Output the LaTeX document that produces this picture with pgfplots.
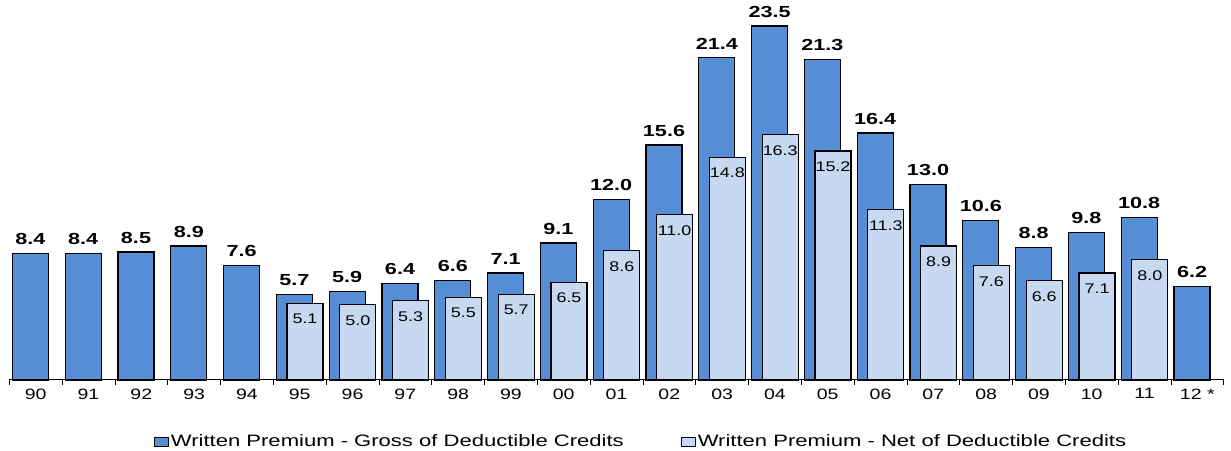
\documentclass[border=0pt]{standalone}
\usepackage{pgfplots}
\pgfplotsset{compat=1.18}
\usepackage{fontspec}
\setmainfont{Liberation Sans}
\definecolor{gross}{RGB}{85,142,213}
\definecolor{net}{RGB}{198,217,241}
\newcommand\sx[1]{\scalebox{1.35}[1]{#1}}
\newcommand\sxt[1]{\scalebox{1.3}[1]{#1}}
\newcommand\sxl[1]{\scalebox{1.336}[1]{#1}}
\newcommand\sxn[1]{\scalebox{1.28}[1]{#1}}
\begin{document}
\begin{tikzpicture}
\begin{axis}[
  x=52.8pt, y=15.06pt,
  xmin=-0.5, xmax=22.5, ymin=0, ymax=25,
  enlargelimits=false,
  ybar, bar width=36pt,
  axis y line=none, axis x line*=bottom,
  x axis line style={black, line width=1pt},
  xtick={0,...,22},
  xticklabels={\sxt{90},\sxt{91},\sxt{92},\sxt{93},\sxt{94},\sxt{95},\sxt{96},\sxt{97},\sxt{98},\sxt{99},\sxt{00},\sxt{01},\sxt{02},\sxt{03},\sxt{04},\sxt{05},\sxt{06},\sxt{07},\sxt{08},\sxt{09},\sxt{10},\sxt{11},\sxt{12 *}},
  major tick length=0pt,
  minor xtick={-0.5,0.5,...,22.5},
  minor tick length=4.5pt,
  tick align=outside,
  tick style={black, line width=0.8pt},
  xticklabel style={font=\fontsize{15}{17}\selectfont, text=black, yshift=-5pt},
  clip=false,
  /pgf/number format/fixed,
  /pgf/number format/fixed zerofill,
  /pgf/number format/precision=1,
  /pgf/number format/assume math mode=true,
  legend columns=2,
  legend style={at={(0.5202,-0.1639)}, anchor=center, draw=none, fill=none,
    font=\fontsize{16.5}{18}\selectfont, inner sep=0pt,
    /tikz/every even column/.append style={column sep=55pt}},
]
\addplot[fill=gross, draw=black, line width=1.2pt, bar shift=-5.3pt,
  nodes near coords={\sx{\bfseries\pgfmathprintnumber{\pgfplotspointmeta}}},
  every node near coord/.append style={font=\fontsize{16}{18}\selectfont, anchor=south, inner sep=0pt, yshift=8pt, text=black},
  legend image code/.code={\draw[fill=gross, draw=black, line width=1pt] (0pt,-4.7pt) rectangle (14pt,4.7pt);}]
  coordinates {(0,8.4) (1,8.4) (2,8.5) (3,8.9) (4,7.6) (5,5.7) (6,5.9) (7,6.4) (8,6.6) (9,7.1) (10,9.1) (11,12.0) (12,15.6) (13,21.4) (14,23.5) (15,21.3) (16,16.4) (17,13.0) (18,10.6) (19,8.8) (20,9.8) (21,10.8) (22,6.2)};
\addlegendentry{\sxl{Written Premium - Gross of Deductible Credits}}
\addplot[fill=net, draw=black, line width=1.2pt, bar shift=5.3pt,
  nodes near coords={\sxn{\pgfmathprintnumber{\pgfplotspointmeta}}},
  every node near coord/.append style={font=\fontsize{14}{16}\selectfont, anchor=north, inner sep=0pt, yshift=-10.5pt, text=black},
  legend image code/.code={\draw[fill=net, draw=black, line width=1pt] (0pt,-4.7pt) rectangle (14pt,4.7pt);}]
  coordinates {(5,5.1) (6,5.0) (7,5.3) (8,5.5) (9,5.7) (10,6.5) (11,8.6) (12,11.0) (13,14.8) (14,16.3) (15,15.2) (16,11.3) (17,8.9) (18,7.6) (19,6.6) (20,7.1) (21,8.0)};
\addlegendentry{\sxl{Written Premium - Net of Deductible Credits}}
\end{axis}
\path[use as bounding box] (-9.3pt,-70pt) rectangle (1221.7pt,380pt);
\end{tikzpicture}
\end{document}
